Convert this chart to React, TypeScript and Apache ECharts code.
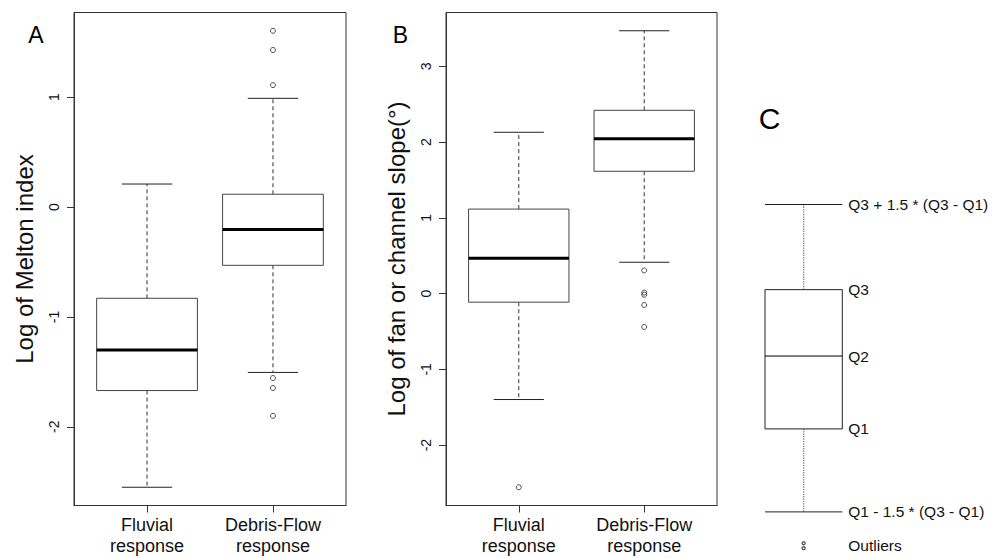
import React, { useEffect, useRef } from 'react';
import * as echarts from 'echarts';

const FONT = '"Liberation Sans", Arial, Helvetica, sans-serif';

// Shared x categories (R boxplot positions 1 and 2)
const categories = ['Fluvial\nresponse', 'Debris-Flow\nresponse'];
const categoryPositions = [1, 2];

// Panel A: Log of Melton index  [position, lowerWhisker, Q1, median, Q3, upperWhisker]
const meltonBoxes = [
  [1, -2.55, -1.67, -1.3, -0.83, 0.21],
  [2, -1.505, -0.53, -0.204, 0.117, 0.99],
];
const meltonOutliers = [
  [2, 1.605], [2, 1.43], [2, 1.11], [2, -1.556], [2, -1.647], [2, -1.9],
];
const meltonTicks = [-2, -1, 0, 1];

// Panel B: Log of fan or channel slope
const slopeBoxes = [
  [1, -1.398, -0.113, 0.466, 1.116, 2.13],
  [2, 0.414, 1.615, 2.044, 2.42, 3.47],
];
const slopeOutliers = [
  [1, -2.556], [2, 0.306], [2, 0.014], [2, -0.014], [2, -0.15], [2, -0.44],
];
const slopeTicks = [-2, -1, 0, 1, 2, 3];

// Panel C: schematic box (arbitrary units)
const schematicBox = [[0.5, 0, 27.0, 50.7, 72.3, 100]];
const schematicLabels = ['Q1 - 1.5 * (Q3 - Q1)', 'Q1', 'Q2', 'Q3', 'Q3 + 1.5 * (Q3 - Q1)'];
const schematicOutliers = [[0.5, -10.2], [0.5, -11.8]];
const schematicOutlierLabel = 'Outliers';

const panelLetters = ['A', 'B', 'C'];

function rRange(boxes: number[][], outliers: number[][]) {
  const vals: number[] = [];
  boxes.forEach((b) => vals.push(b[1], b[5]));
  outliers.forEach((o) => vals.push(o[1]));
  const lo = Math.min(...vals);
  const hi = Math.max(...vals);
  const ext = (hi - lo) * 0.04;
  return [lo - ext, hi + ext];
}

function boxRenderer(o: {
  boxWidth: number; capWidth: number; boxStroke: string; medianWidth: number;
  whiskerColor: string; whiskerDash: number[]; whiskerWidth: number;
}) {
  return (params: any, api: any) => {
    const x = api.value(0);
    const lo = api.coord([x, api.value(1)]);
    const q1 = api.coord([x, api.value(2)]);
    const med = api.coord([x, api.value(3)]);
    const q3 = api.coord([x, api.value(4)]);
    const hi = api.coord([x, api.value(5)]);
    const bw = api.size([o.boxWidth, 0])[0];
    const cw = api.size([o.capWidth, 0])[0];
    const cx = q1[0];
    const wStyle = { stroke: o.whiskerColor, lineWidth: o.whiskerWidth, lineDash: o.whiskerDash };
    const capStyle = { stroke: '#222', lineWidth: 1 };
    return {
      type: 'group',
      children: [
        { type: 'line', shape: { x1: cx, y1: q3[1], x2: cx, y2: hi[1] }, style: wStyle },
        { type: 'line', shape: { x1: cx, y1: q1[1], x2: cx, y2: lo[1] }, style: wStyle },
        { type: 'line', shape: { x1: cx - cw / 2, y1: hi[1], x2: cx + cw / 2, y2: hi[1] }, style: capStyle },
        { type: 'line', shape: { x1: cx - cw / 2, y1: lo[1], x2: cx + cw / 2, y2: lo[1] }, style: capStyle },
        {
          type: 'rect',
          shape: { x: cx - bw / 2, y: q3[1], width: bw, height: q1[1] - q3[1] },
          style: { fill: '#fff', stroke: o.boxStroke, lineWidth: 1 },
        },
        {
          type: 'line',
          shape: { x1: cx - bw / 2, y1: med[1], x2: cx + bw / 2, y2: med[1] },
          style: { stroke: '#000', lineWidth: o.medianWidth },
        },
      ],
    };
  };
}

const dataBox = boxRenderer({
  boxWidth: 0.8, capWidth: 0.4, boxStroke: '#444', medianWidth: 3,
  whiskerColor: '#333', whiskerDash: [4, 3], whiskerWidth: 1,
});
const schemBox = boxRenderer({
  boxWidth: 1, capWidth: 1, boxStroke: '#222', medianWidth: 1,
  whiskerColor: '#777', whiskerDash: [1.2, 1.2], whiskerWidth: 1.3,
});

function xAxisFor(gridIndex: number) {
  return {
    gridIndex, type: 'value', min: 0.42, max: 2.58,
    axisLine: { show: true, onZero: false, lineStyle: { color: '#333' } },
    splitLine: { show: false },
    axisTick: { show: true, customValues: categoryPositions, length: 7, lineStyle: { color: '#333' } },
    axisLabel: {
      customValues: categoryPositions,
      formatter: (v: number) => categories[Math.round(v) - 1],
      fontSize: 18, lineHeight: 21, color: '#111', margin: 9, fontFamily: FONT,
    },
  };
}

function yAxisFor(gridIndex: number, range: number[], ticks: number[], name: string) {
  return {
    gridIndex, type: 'value', min: range[0], max: range[1],
    splitLine: { show: false },
    axisLine: { show: true, onZero: false, lineStyle: { color: '#333' } },
    axisTick: { show: true, customValues: ticks, length: 7, lineStyle: { color: '#333' } },
    axisLabel: { customValues: ticks, rotate: 90, fontSize: 14, margin: 13, color: '#111', fontFamily: FONT },
    name, nameLocation: 'middle', nameGap: 38, nameRotate: 90,
    nameTextStyle: { fontSize: 24, color: '#111', fontFamily: FONT },
  };
}

function outlierSeries(xi: number, data: number[][], size: number, bw: number) {
  return {
    type: 'scatter', xAxisIndex: xi, yAxisIndex: xi, data, symbol: 'circle', symbolSize: size,
    itemStyle: { color: 'rgba(255,255,255,0)', borderColor: '#222', borderWidth: bw },
    clip: false, silent: true, z: 5,
  };
}

export default function App() {
  const ref = useRef<HTMLDivElement>(null);
  useEffect(() => {
    if (!ref.current) return;
    const chart = echarts.init(ref.current, undefined, { renderer: 'svg' });
    const rangeA = rRange(meltonBoxes, meltonOutliers);
    const rangeB = rRange(slopeBoxes, slopeOutliers);

    const schemLabelData = schematicLabels.map((t, i) => [1, schematicBox[0][i + 1], t]);
    const outMid = (schematicOutliers[0][1] + schematicOutliers[1][1]) / 2;
    schemLabelData.push([1, outMid, schematicOutlierLabel]);

    chart.setOption({
      animation: false,
      backgroundColor: '#fff',
      grid: [
        { left: 74, top: 12.5, width: 272, height: 493, show: true, borderColor: '#333', borderWidth: 1, backgroundColor: 'transparent' },
        { left: 446, top: 12.5, width: 271, height: 493, show: true, borderColor: '#333', borderWidth: 1, backgroundColor: 'transparent' },
        { left: 765, top: 204.5, width: 77.3, height: 359, show: false },
      ],
      xAxis: [
        xAxisFor(0),
        xAxisFor(1),
        { gridIndex: 2, type: 'value', min: 0, max: 1, show: false },
      ],
      yAxis: [
        yAxisFor(0, rangeA, meltonTicks, 'Log of Melton index'),
        yAxisFor(1, rangeB, slopeTicks, 'Log of fan or channel slope(°)'),
        { gridIndex: 2, type: 'value', min: -15, max: 100, show: false },
      ],
      graphic: [
        { type: 'text', x: 35.8, y: 35, style: { text: panelLetters[0], fontSize: 23, fontFamily: FONT, fill: '#000', align: 'center', verticalAlign: 'middle' } },
        { type: 'text', x: 400.5, y: 35, style: { text: panelLetters[1], fontSize: 23, fontFamily: FONT, fill: '#000', align: 'center', verticalAlign: 'middle' } },
        { type: 'text', x: 769.5, y: 118, style: { text: panelLetters[2], fontSize: 30, fontFamily: FONT, fill: '#000', align: 'center', verticalAlign: 'middle' } },
      ],
      series: [
        { type: 'custom', xAxisIndex: 0, yAxisIndex: 0, data: meltonBoxes, renderItem: dataBox, encode: { x: 0, y: [1, 2, 3, 4, 5] }, clip: false, silent: true },
        outlierSeries(0, meltonOutliers, 5, 1),
        { type: 'custom', xAxisIndex: 1, yAxisIndex: 1, data: slopeBoxes, renderItem: dataBox, encode: { x: 0, y: [1, 2, 3, 4, 5] }, clip: false, silent: true },
        outlierSeries(1, slopeOutliers, 5, 1),
        { type: 'custom', xAxisIndex: 2, yAxisIndex: 2, data: schematicBox, renderItem: schemBox, encode: { x: 0, y: [1, 2, 3, 4, 5] }, clip: false, silent: true },
        outlierSeries(2, schematicOutliers, 3, 1.3),
        {
          type: 'custom', xAxisIndex: 2, yAxisIndex: 2, data: schemLabelData, clip: false, silent: true,
          encode: { x: 0, y: 1 },
          renderItem: (params: any, api: any) => {
            const p = api.coord([api.value(0), api.value(1)]);
            const item = schemLabelData[params.dataIndex];
            return {
              type: 'text', x: p[0] + 6, y: p[1],
              style: { text: item[2], fontSize: 15.5, fontFamily: FONT, fill: '#111', align: 'left', verticalAlign: 'middle' },
            };
          },
        },
      ],
    });
    return () => chart.dispose();
  }, []);
  return <div ref={ref} style={{ position: 'fixed', left: 0, top: 0, width: 994, height: 558 }} />;
}
